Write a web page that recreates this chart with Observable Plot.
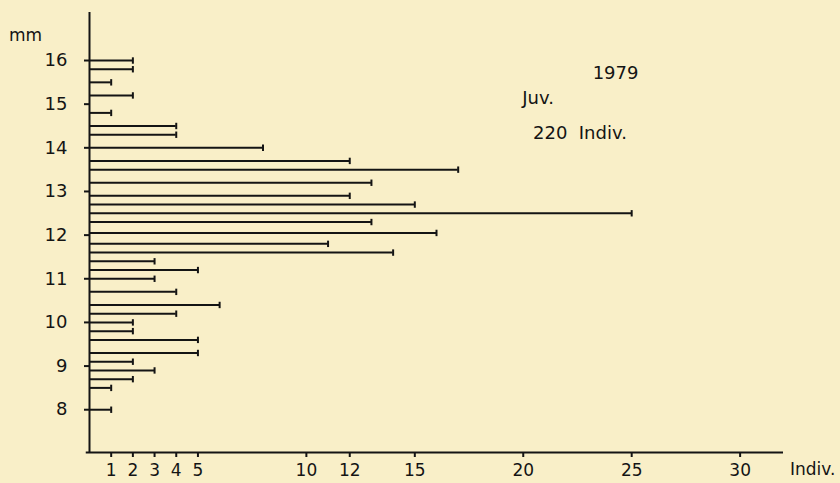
<!DOCTYPE html>
<html>
<head>
<meta charset="utf-8">
<script src="https://cdn.jsdelivr.net/npm/d3@7"></script>
<script src="https://cdn.jsdelivr.net/npm/@observablehq/plot@0.6"></script>
<style>
  html, body { margin: 0; padding: 0; background: #f9efc8; }
  #chart { width: 840px; height: 483px; }
</style>
</head>
<body>
<div id="chart"></div>
<script>
// Body length classes (mm) and number of individuals per class
const lengthMM = [16.0, 15.8, 15.5, 15.2, 14.8, 14.5, 14.3, 14.0, 13.7, 13.5, 13.2, 12.9, 12.7, 12.5, 12.3, 12.05, 11.8, 11.6, 11.4, 11.2, 11.0, 10.7, 10.4, 10.2, 10.0, 9.8, 9.6, 9.3, 9.1, 8.9, 8.7, 8.5, 8.0];
const individuals = [2, 2, 1, 2, 1, 4, 4, 8, 12, 17, 13, 12, 15, 25, 13, 16, 11, 14, 3, 5, 3, 4, 6, 4, 2, 2, 5, 5, 2, 3, 2, 1, 1];
const xTickValues = [1, 2, 3, 4, 5, 10, 12, 15, 20, 25, 30];
const yTickValues = [8, 9, 10, 11, 12, 13, 14, 15, 16];
const annotationText = ["1979", "Juv.", "220  Indiv."];
const annotationX = [23.2, 19.95, 20.45];
const annotationY = [15.71, 15.14, 14.33];

const data = lengthMM.map((mm, i) => ({mm, n: individuals[i]}));
const notes = annotationText.map((t, i) => ({t, x: annotationX[i], y: annotationY[i]}));

const X0 = 0, X1 = 32, Y0 = 7.02, Y1 = 17.1;

const vbar = {
  draw(ctx, size) {
    const h = Math.sqrt(size / Math.PI);
    ctx.moveTo(0, -h);
    ctx.lineTo(0, h);
  }
};

const ink = "#141414";
const font = "'DejaVu Sans', sans-serif";

const chart = Plot.plot({
  width: 840,
  height: 483,
  marginLeft: 89,
  marginRight: 57,
  marginTop: 12,
  marginBottom: 31,
  x: {domain: [X0, X1]},
  y: {domain: [Y0, Y1]},
  style: {background: "#f9efc8", color: ink, fontFamily: font, overflow: "visible"},
  marks: [
    Plot.ruleY(data, {y: "mm", x1: 0, x2: "n", stroke: ink, strokeWidth: 2}),
    Plot.dot(data, {x: "n", y: "mm", symbol: vbar, r: 3.2, stroke: ink, strokeWidth: 2, fill: "none"}),
    Plot.ruleX([X0], {y1: Y0, y2: Y1, stroke: ink, strokeWidth: 2}),
    Plot.ruleY([Y0], {x1: -0.15, x2: X1, stroke: ink, strokeWidth: 2}),
    Plot.axisY({ticks: yTickValues, tickSize: 5, tickPadding: 17, fontSize: 18, label: null, strokeWidth: 2}),
    Plot.axisX({ticks: xTickValues, tickSize: 5, tickPadding: 6, fontSize: 17, label: null, strokeWidth: 2}),
    Plot.text(["mm"], {x: -2.95, y: 16.58, text: d => d, textAnchor: "middle", fontSize: 17, fill: ink}),
    Plot.text(["Indiv."], {x: 32.3, y: 6.63, text: d => d, textAnchor: "start", fontSize: 17, fill: ink}),
    Plot.text(notes, {x: "x", y: "y", text: "t", textAnchor: "start", fontSize: 18, fill: ink})
  ]
});
document.getElementById("chart").appendChild(chart);
</script>
</body>
</html>
